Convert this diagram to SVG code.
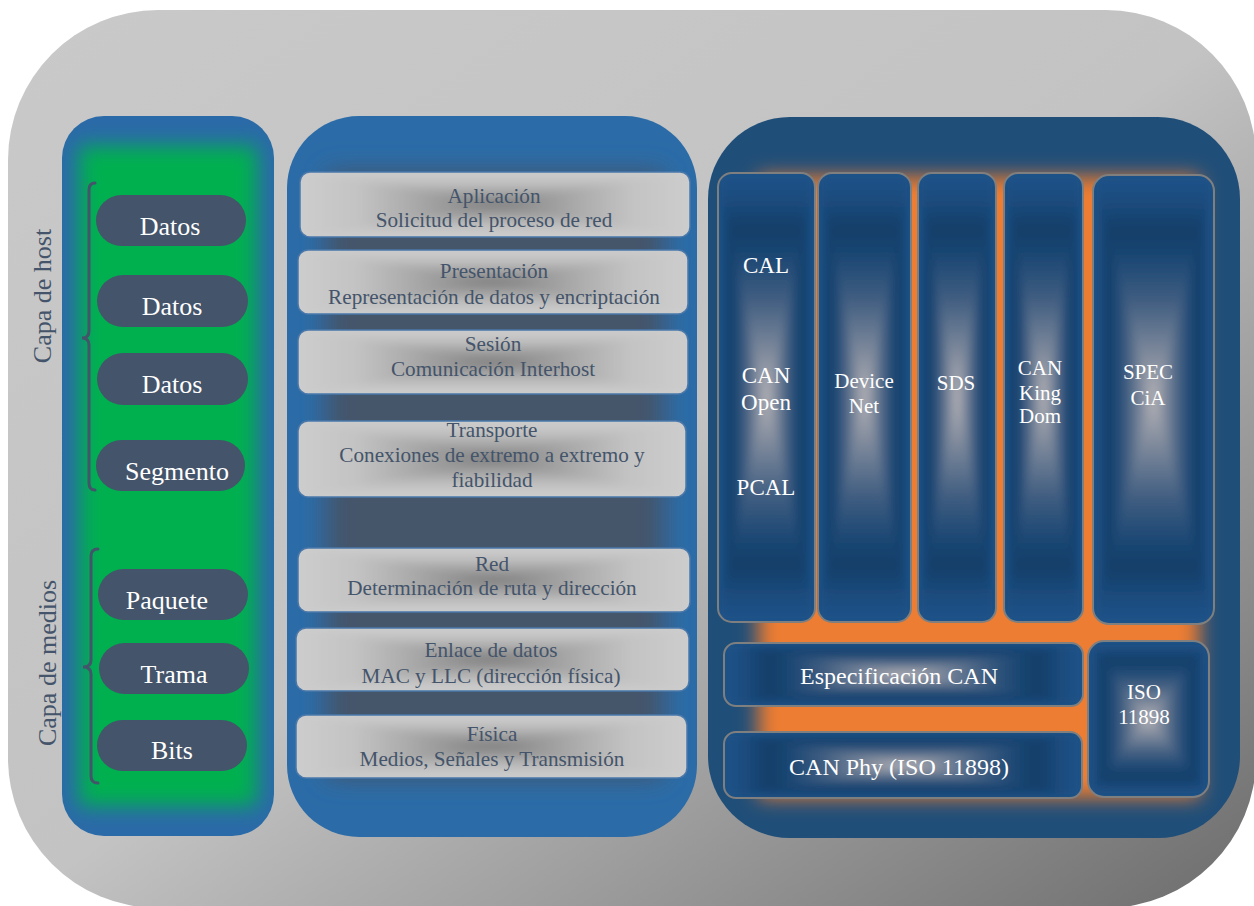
<svg xmlns="http://www.w3.org/2000/svg" width="1254" height="906" viewBox="0 0 1254 906">
<defs>
  <linearGradient id="gOuter" x1="0" y1="0" x2="1" y2="1">
    <stop offset="0" stop-color="#c9c9c9"/>
    <stop offset="0.5" stop-color="#c3c3c3"/>
    <stop offset="1" stop-color="#6c6c6c"/>
  </linearGradient>
  <linearGradient id="gLs">
    <stop offset="0" stop-color="#cdcdcd"/>
    <stop offset="0.3" stop-color="#c3c3c3"/>
    <stop offset="0.55" stop-color="#adadad"/>
    <stop offset="0.8" stop-color="#959595"/>
    <stop offset="1" stop-color="#7d7d7d"/>
  </linearGradient>
  <linearGradient id="gLT" href="#gLs" x1="0" y1="0" x2="0" y2="1"/>
  <linearGradient id="gLB" href="#gLs" x1="0" y1="1" x2="0" y2="0"/>
  <linearGradient id="gLL" href="#gLs" x1="0" y1="0" x2="1" y2="0"/>
  <linearGradient id="gLR" href="#gLs" x1="1" y1="0" x2="0" y2="0"/>
  <linearGradient id="gCs">
    <stop offset="0" stop-color="#1f5389"/>
    <stop offset="0.1" stop-color="#1c4d80"/>
    <stop offset="0.25" stop-color="#143e69"/>
    <stop offset="0.36" stop-color="#1a4673"/>
    <stop offset="0.55" stop-color="#3e5c80"/>
    <stop offset="0.8" stop-color="#7f8a9c"/>
    <stop offset="1" stop-color="#b4b2b6"/>
  </linearGradient>
  <linearGradient id="gCT" href="#gCs" x1="0" y1="0" x2="0" y2="1"/>
  <linearGradient id="gCB" href="#gCs" x1="0" y1="1" x2="0" y2="0"/>
  <linearGradient id="gCL" href="#gCs" x1="0" y1="0" x2="1" y2="0"/>
  <linearGradient id="gCR" href="#gCs" x1="1" y1="0" x2="0" y2="0"/>
  <filter id="blur10" x="-20%" y="-20%" width="140%" height="140%"><feGaussianBlur stdDeviation="10"/></filter>
  <filter id="blur13" x="-20%" y="-20%" width="140%" height="140%"><feGaussianBlur stdDeviation="13"/></filter>
  <filter id="softL" x="-10%" y="-20%" width="120%" height="140%"><feGaussianBlur stdDeviation="4"/></filter>
  <filter id="softC" x="-20%" y="-20%" width="140%" height="140%"><feGaussianBlur stdDeviation="4"/></filter>
  <clipPath id="cLeft"><rect x="62" y="116" width="212" height="720" rx="42"/></clipPath>
  <clipPath id="cMid"><rect x="287" y="116" width="410" height="721" rx="72"/></clipPath>
  <clipPath id="cRight"><rect x="708" y="117" width="532" height="721" rx="82"/></clipPath>
  <clipPath id="k1"><rect x="300" y="172" width="390" height="65" rx="10"/></clipPath>
  <clipPath id="k2"><rect x="298" y="250" width="390" height="64" rx="10"/></clipPath>
  <clipPath id="k3"><rect x="298" y="330" width="390" height="64" rx="10"/></clipPath>
  <clipPath id="k4"><rect x="298" y="421" width="388" height="76" rx="10"/></clipPath>
  <clipPath id="k5"><rect x="298" y="548" width="392" height="64" rx="10"/></clipPath>
  <clipPath id="k6"><rect x="296" y="628" width="393" height="63" rx="10"/></clipPath>
  <clipPath id="k7"><rect x="296" y="715" width="391" height="63" rx="10"/></clipPath>
  <clipPath id="c1"><rect x="718" y="173" width="97" height="449" rx="14"/></clipPath>
  <clipPath id="c2"><rect x="818" y="173" width="93" height="449" rx="14"/></clipPath>
  <clipPath id="c3"><rect x="918" y="173" width="78" height="449" rx="14"/></clipPath>
  <clipPath id="c4"><rect x="1004" y="173" width="79" height="449" rx="14"/></clipPath>
  <clipPath id="c5"><rect x="1093" y="175" width="121" height="449" rx="16"/></clipPath>
  <clipPath id="c6"><rect x="724" y="643" width="359" height="63" rx="12"/></clipPath>
  <clipPath id="c7"><rect x="724" y="732" width="358" height="66" rx="12"/></clipPath>
  <clipPath id="c8"><rect x="1088" y="641" width="121" height="156" rx="16"/></clipPath>
</defs>
<style>
  text { font-family: 'Liberation Serif', 'Times New Roman', Tinos, 'DejaVu Serif', serif; }
  .pill { fill: #44546a; }
  .pillT { font-size: 26px; fill: #ffffff; text-anchor: middle; }
  .side { font-size: 26px; fill: #44546a; text-anchor: middle; }
  .brace { fill: none; stroke: #44546a; stroke-width: 3; stroke-linecap: round; }
  .lBase { fill: #cdcdcd; }
  .lT { fill: url(#gLT); stroke: url(#gLT); stroke-width: 0.8; }
  .lB { fill: url(#gLB); stroke: url(#gLB); stroke-width: 0.8; }
  .lL { fill: url(#gLL); stroke: url(#gLL); stroke-width: 0.8; }
  .lR { fill: url(#gLR); stroke: url(#gLR); stroke-width: 0.8; }
  .layerS { fill: none; stroke: #4a78aa; stroke-width: 1.5; }
  .layerT { font-size: 21.2px; fill: #44546a; text-anchor: middle; }
  .cBase { fill: #1f5389; }
  .cT { fill: url(#gCT); stroke: url(#gCT); stroke-width: 0.8; }
  .cB { fill: url(#gCB); stroke: url(#gCB); stroke-width: 0.8; }
  .cL { fill: url(#gCL); stroke: url(#gCL); stroke-width: 0.8; }
  .cR { fill: url(#gCR); stroke: url(#gCR); stroke-width: 0.8; }
  .canS { fill: none; stroke: #7f7f7f; stroke-width: 2; }
  .canT { font-size: 21px; fill: #ffffff; text-anchor: middle; }
  .canL { font-size: 23px; }
  .canB { font-size: 24px; }
</style>

<rect id="background" x="8" y="10" width="1248" height="898" rx="150" fill="url(#gOuter)"/>

<g id="panel-left">
  <rect x="62" y="116" width="212" height="720" rx="42" fill="#2a6aa8"/>
  <g clip-path="url(#cLeft)">
    <rect x="79" y="146" width="178" height="660" fill="#00b050" filter="url(#blur10)"/>
  </g>
</g>

<g id="panel-mid">
  <rect x="287" y="116" width="410" height="721" rx="72" fill="#2b6ca8"/>
  <g clip-path="url(#cMid)">
    <rect x="326" y="172" width="338" height="606" fill="#44546a" filter="url(#blur13)"/>
  </g>
</g>

<g id="panel-right">
  <rect x="708" y="117" width="532" height="721" rx="82" fill="#1f4e79"/>
  <g clip-path="url(#cRight)">
    <rect x="758" y="176" width="442" height="622" fill="#ed7d31" filter="url(#blur10)"/>
  </g>
</g>

<g id="labels-side">
  <text class="side" transform="translate(51,296) rotate(-90)">Capa de host</text>
  <text class="side" transform="translate(56,663) rotate(-90)">Capa de medios</text>
</g>

<g id="braces">
  <path class="brace" d="M95,183 Q89,183 89,190 L89,331 Q89,338 82,338 Q89,338 89,345 L89,483 Q89,490 95,490"/>
  <path class="brace" d="M98,549 Q91,549 91,556 L91,660 Q91,667 83,667 Q91,667 91,674 L91,776 Q91,783 98,783"/>
</g>

<g id="pill-datos-1"><rect class="pill" x="96" y="195" width="150" height="51" rx="25.5"/><text class="pillT" x="170" y="235">Datos</text></g>
<g id="pill-datos-2"><rect class="pill" x="97" y="275" width="151" height="52" rx="26"/><text class="pillT" x="172" y="315">Datos</text></g>
<g id="pill-datos-3"><rect class="pill" x="97" y="353" width="151" height="52" rx="26"/><text class="pillT" x="172" y="393">Datos</text></g>
<g id="pill-segmento"><rect class="pill" x="96" y="440" width="149" height="51" rx="25.5"/><text class="pillT" x="177" y="480">Segmento</text></g>
<g id="pill-paquete"><rect class="pill" x="98" y="569" width="150" height="51" rx="25.5"/><text class="pillT" x="167" y="609">Paquete</text></g>
<g id="pill-trama"><rect class="pill" x="99" y="643" width="150" height="51" rx="25.5"/><text class="pillT" x="174" y="683">Trama</text></g>
<g id="pill-bits"><rect class="pill" x="97" y="720" width="150" height="51" rx="25.5"/><text class="pillT" x="172" y="759">Bits</text></g>

<g id="layer-aplicacion">
  <g clip-path="url(#k1)"><rect class="lBase" x="300" y="172" width="390" height="65"/><g filter="url(#softL)"><polygon class="lT" points="300,172 690,172 495,204.5"/><polygon class="lB" points="300,237 690,237 495,204.5"/><polygon class="lL" points="300,172 300,237 495,204.5"/><polygon class="lR" points="690,172 690,237 495,204.5"/></g></g>
  <rect class="layerS" x="300" y="172" width="390" height="65" rx="10"/>
  <text class="layerT" x="494" y="203">Aplicación</text><text class="layerT" x="494" y="227">Solicitud del proceso de red</text></g>
<g id="layer-presentacion">
  <g clip-path="url(#k2)"><rect class="lBase" x="298" y="250" width="390" height="64"/><g filter="url(#softL)"><polygon class="lT" points="298,250 688,250 493,282"/><polygon class="lB" points="298,314 688,314 493,282"/><polygon class="lL" points="298,250 298,314 493,282"/><polygon class="lR" points="688,250 688,314 493,282"/></g></g>
  <rect class="layerS" x="298" y="250" width="390" height="64" rx="10"/>
  <text class="layerT" x="494" y="278">Presentación</text><text class="layerT" x="494" y="304">Representación de datos y encriptación</text></g>
<g id="layer-sesion">
  <g clip-path="url(#k3)"><rect class="lBase" x="298" y="330" width="390" height="64"/><g filter="url(#softL)"><polygon class="lT" points="298,330 688,330 493,362"/><polygon class="lB" points="298,394 688,394 493,362"/><polygon class="lL" points="298,330 298,394 493,362"/><polygon class="lR" points="688,330 688,394 493,362"/></g></g>
  <rect class="layerS" x="298" y="330" width="390" height="64" rx="10"/>
  <text class="layerT" x="493" y="351">Sesión</text><text class="layerT" x="493" y="376">Comunicación Interhost</text></g>
<g id="layer-transporte">
  <g clip-path="url(#k4)"><rect class="lBase" x="298" y="421" width="388" height="76"/><g filter="url(#softL)"><polygon class="lT" points="298,421 686,421 492,459"/><polygon class="lB" points="298,497 686,497 492,459"/><polygon class="lL" points="298,421 298,497 492,459"/><polygon class="lR" points="686,421 686,497 492,459"/></g></g>
  <rect class="layerS" x="298" y="421" width="388" height="76" rx="10"/>
  <text class="layerT" x="492" y="437">Transporte</text><text class="layerT" x="492" y="462">Conexiones de extremo a extremo y</text><text class="layerT" x="492" y="487">fiabilidad</text></g>
<g id="layer-red">
  <g clip-path="url(#k5)"><rect class="lBase" x="298" y="548" width="392" height="64"/><g filter="url(#softL)"><polygon class="lT" points="298,548 690,548 494,580"/><polygon class="lB" points="298,612 690,612 494,580"/><polygon class="lL" points="298,548 298,612 494,580"/><polygon class="lR" points="690,548 690,612 494,580"/></g></g>
  <rect class="layerS" x="298" y="548" width="392" height="64" rx="10"/>
  <text class="layerT" x="492" y="571">Red</text><text class="layerT" x="492" y="595">Determinación de ruta y dirección</text></g>
<g id="layer-enlace">
  <g clip-path="url(#k6)"><rect class="lBase" x="296" y="628" width="393" height="63"/><g filter="url(#softL)"><polygon class="lT" points="296,628 689,628 492.5,659.5"/><polygon class="lB" points="296,691 689,691 492.5,659.5"/><polygon class="lL" points="296,628 296,691 492.5,659.5"/><polygon class="lR" points="689,628 689,691 492.5,659.5"/></g></g>
  <rect class="layerS" x="296" y="628" width="393" height="63" rx="10"/>
  <text class="layerT" x="491" y="657">Enlace de datos</text><text class="layerT" x="491" y="683">MAC y LLC (dirección física)</text></g>
<g id="layer-fisica">
  <g clip-path="url(#k7)"><rect class="lBase" x="296" y="715" width="391" height="63"/><g filter="url(#softL)"><polygon class="lT" points="296,715 687,715 491.5,746.5"/><polygon class="lB" points="296,778 687,778 491.5,746.5"/><polygon class="lL" points="296,715 296,778 491.5,746.5"/><polygon class="lR" points="687,715 687,778 491.5,746.5"/></g></g>
  <rect class="layerS" x="296" y="715" width="391" height="63" rx="10"/>
  <text class="layerT" x="492" y="741">Física</text><text class="layerT" x="492" y="766">Medios, Señales y Transmisión</text></g>

<g id="col-cal">
  <g clip-path="url(#c1)"><rect class="cBase" x="718" y="173" width="97" height="449"/><g filter="url(#softC)"><polygon class="cT" points="718,173 815,173 766.5,397.5"/><polygon class="cB" points="718,622 815,622 766.5,397.5"/><polygon class="cL" points="718,173 718,622 766.5,397.5"/><polygon class="cR" points="815,173 815,622 766.5,397.5"/></g></g>
  <rect class="canS" x="718" y="173" width="97" height="449" rx="14"/>
  <text class="canT canL" x="766" y="273">CAL</text>
  <text class="canT canL" x="766" y="383">CAN</text><text class="canT canL" x="766" y="410">Open</text>
  <text class="canT canL" x="766" y="495">PCAL</text></g>
<g id="col-devicenet">
  <g clip-path="url(#c2)"><rect class="cBase" x="818" y="173" width="93" height="449"/><g filter="url(#softC)"><polygon class="cT" points="818,173 911,173 864.5,397.5"/><polygon class="cB" points="818,622 911,622 864.5,397.5"/><polygon class="cL" points="818,173 818,622 864.5,397.5"/><polygon class="cR" points="911,173 911,622 864.5,397.5"/></g></g>
  <rect class="canS" x="818" y="173" width="93" height="449" rx="14"/>
  <text class="canT" x="864" y="388">Device</text><text class="canT" x="864" y="413">Net</text></g>
<g id="col-sds">
  <g clip-path="url(#c3)"><rect class="cBase" x="918" y="173" width="78" height="449"/><g filter="url(#softC)"><polygon class="cT" points="918,173 996,173 957,397.5"/><polygon class="cB" points="918,622 996,622 957,397.5"/><polygon class="cL" points="918,173 918,622 957,397.5"/><polygon class="cR" points="996,173 996,622 957,397.5"/></g></g>
  <rect class="canS" x="918" y="173" width="78" height="449" rx="14"/>
  <text class="canT" x="956" y="390">SDS</text></g>
<g id="col-kingdom">
  <g clip-path="url(#c4)"><rect class="cBase" x="1004" y="173" width="79" height="449"/><g filter="url(#softC)"><polygon class="cT" points="1004,173 1083,173 1043.5,397.5"/><polygon class="cB" points="1004,622 1083,622 1043.5,397.5"/><polygon class="cL" points="1004,173 1004,622 1043.5,397.5"/><polygon class="cR" points="1083,173 1083,622 1043.5,397.5"/></g></g>
  <rect class="canS" x="1004" y="173" width="79" height="449" rx="14"/>
  <text class="canT" x="1040" y="375">CAN</text><text class="canT" x="1040" y="400">King</text><text class="canT" x="1040" y="423">Dom</text></g>
<g id="col-speccia">
  <g clip-path="url(#c5)"><rect class="cBase" x="1093" y="175" width="121" height="449"/><g filter="url(#softC)"><polygon class="cT" points="1093,175 1214,175 1153.5,399.5"/><polygon class="cB" points="1093,624 1214,624 1153.5,399.5"/><polygon class="cL" points="1093,175 1093,624 1153.5,399.5"/><polygon class="cR" points="1214,175 1214,624 1153.5,399.5"/></g></g>
  <rect class="canS" x="1093" y="175" width="121" height="449" rx="16"/>
  <text class="canT" x="1148" y="379">SPEC</text><text class="canT" x="1148" y="405">CiA</text></g>
<g id="box-especificacion">
  <g clip-path="url(#c6)"><rect class="cBase" x="724" y="643" width="359" height="63"/><g filter="url(#softC)"><polygon class="cT" points="724,643 1083,643 903.5,674.5"/><polygon class="cB" points="724,706 1083,706 903.5,674.5"/><polygon class="cL" points="724,643 724,706 903.5,674.5"/><polygon class="cR" points="1083,643 1083,706 903.5,674.5"/></g></g>
  <rect class="canS" x="724" y="643" width="359" height="63" rx="12"/>
  <text class="canT canB" x="899" y="684">Especificación CAN</text></g>
<g id="box-canphy">
  <g clip-path="url(#c7)"><rect class="cBase" x="724" y="732" width="358" height="66"/><g filter="url(#softC)"><polygon class="cT" points="724,732 1082,732 903,765"/><polygon class="cB" points="724,798 1082,798 903,765"/><polygon class="cL" points="724,732 724,798 903,765"/><polygon class="cR" points="1082,732 1082,798 903,765"/></g></g>
  <rect class="canS" x="724" y="732" width="358" height="66" rx="12"/>
  <text class="canT canB" x="899" y="775">CAN Phy (ISO 11898)</text></g>
<g id="box-iso">
  <g clip-path="url(#c8)"><rect class="cBase" x="1088" y="641" width="121" height="156"/><g filter="url(#softC)"><polygon class="cT" points="1088,641 1209,641 1148.5,719"/><polygon class="cB" points="1088,797 1209,797 1148.5,719"/><polygon class="cL" points="1088,641 1088,797 1148.5,719"/><polygon class="cR" points="1209,641 1209,797 1148.5,719"/></g></g>
  <rect class="canS" x="1088" y="641" width="121" height="156" rx="16"/>
  <text class="canT" x="1144" y="699">ISO</text><text class="canT" x="1144" y="724">11898</text></g>

<g id="connectors"></g>
</svg>
